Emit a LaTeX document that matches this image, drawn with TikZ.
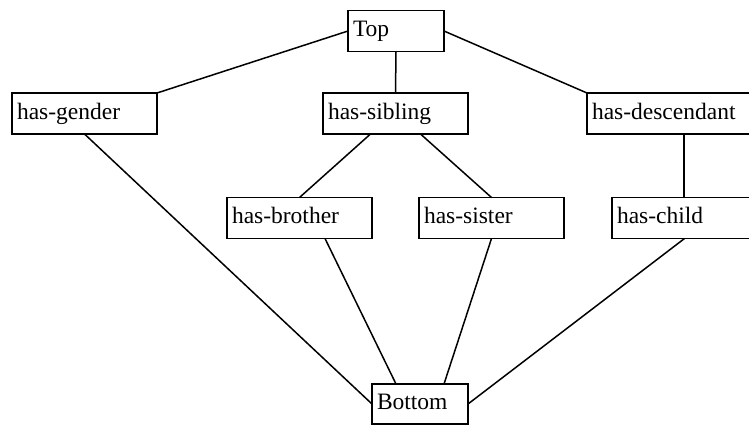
\documentclass[tikz,border=0pt]{standalone}
\usepackage{fontspec}
\setmainfont{Liberation Serif}
\usetikzlibrary{calc}

\tikzset{
  box/.style={draw, line width=1.5pt, inner xsep=5pt, inner ysep=0pt, outer sep=0pt,
    align=left, text height=16pt, text depth=4.4pt, minimum height=41pt,
    font=\fontsize{23.5}{28}\selectfont},
  wide/.style={box, text width=135pt},
  narrow/.style={box, text width=86pt},
  link/.style={line width=1.5pt}
}

\begin{document}
\begin{tikzpicture}[x=1pt, y=-1pt]
  \clip (0,0) rectangle (749,426);
  \fill[white] (0,0) rectangle (749,426);

  % lattice nodes
  \node[narrow] (top)  at (396,31)     {Top};
  \node[wide]   (gen)  at (84.5,113.5) {has-gender};
  \node[wide]   (sib)  at (395.5,113.5){has-sibling};
  \node[box, text width=184pt] (desc) at (684,113.5) {has-descendant};
  \node[wide]   (bro)  at (299.5,218)  {has-brother};
  \node[wide]   (sis)  at (491.5,218)  {has-sister};
  \node[wide]   (chi)  at (684.5,218)  {has-child};
  \node[narrow, minimum height=40pt] (bot) at (420,404) {Bottom};

  % connectors
  \draw[link] (top.west) -- (gen.north east);
  \draw[link] (top.south) -- (sib.north);
  \draw[link] (top.east) -- (desc.north west);
  \draw[link] ([xshift=-25pt]sib.south) -- (bro.north);
  \draw[link] ([xshift=25pt]sib.south) -- (sis.north);
  \draw[link] (desc.south) -- (desc.south |- chi.north);
  \draw[link] (gen.south) -- (bot.west);
  \draw[link] ([xshift=25.5pt]bro.south) -- ([xshift=-24pt]bot.north);
  \draw[link] (sis.south) -- ([xshift=24pt]bot.north);
  \draw[link] (chi.south) -- (bot.east);
\end{tikzpicture}
\end{document}
